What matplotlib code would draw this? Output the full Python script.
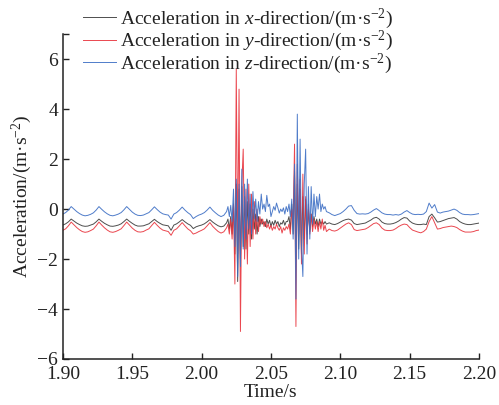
import numpy as np
import matplotlib
matplotlib.use("Agg")
import matplotlib.pyplot as plt

plt.rcParams['font.family'] = ['Liberation Serif', 'DejaVu Serif']
plt.rcParams['mathtext.fontset'] = 'custom'
plt.rcParams['mathtext.rm'] = 'Liberation Serif'
plt.rcParams['mathtext.it'] = 'Liberation Serif:italic'

# sampling grid: 2 ms outside the impacts, 1 ms during them
time_a = np.round(np.arange(1.900, 2.0165, 0.002), 3)
time_b = np.round(np.arange(2.018, 2.0905, 0.001), 3)
time_c = np.round(np.arange(2.092, 2.2005, 0.002), 3)
time = np.concatenate([time_a, time_b, time_c])

acc_z_a = [-0.20, -0.14, -0.04, 0.10, 0.00, -0.10, -0.18, -0.24, -0.27, -0.25,
           -0.21, -0.15, -0.04, 0.10, -0.01, -0.11, -0.19, -0.25, -0.27, -0.24,
           -0.20, -0.14, -0.03, 0.10, -0.01, -0.12, -0.20, -0.25, -0.26, -0.24,
           -0.19, -0.14, -0.03, 0.09, -0.02, -0.12, -0.19, -0.22, -0.24, -0.40,
           -0.20, -0.14, -0.04, 0.08, -0.04, -0.14, -0.22, -0.38, -0.30, -0.24,
           -0.20, -0.14, -0.04, 0.08, -0.05, -0.15, -0.24, -0.30, -0.25]
acc_x_a = [-0.64, -0.59, -0.51, -0.40, -0.48, -0.56, -0.62, -0.67, -0.69, -0.68,
           -0.64, -0.60, -0.51, -0.40, -0.49, -0.57, -0.63, -0.68, -0.69, -0.67,
           -0.64, -0.59, -0.50, -0.40, -0.49, -0.57, -0.64, -0.68, -0.68, -0.67,
           -0.63, -0.59, -0.50, -0.41, -0.50, -0.57, -0.63, -0.65, -0.67, -0.85,
           -0.64, -0.59, -0.51, -0.42, -0.51, -0.59, -0.65, -0.78, -0.71, -0.67,
           -0.64, -0.59, -0.51, -0.42, -0.52, -0.60, -0.67, -0.71, -0.68]
acc_y_a = [-0.85, -0.79, -0.67, -0.52, -0.63, -0.74, -0.83, -0.90, -0.93, -0.91,
           -0.86, -0.80, -0.67, -0.52, -0.64, -0.75, -0.84, -0.91, -0.93, -0.90,
           -0.85, -0.79, -0.66, -0.52, -0.64, -0.76, -0.85, -0.91, -0.92, -0.90,
           -0.84, -0.79, -0.66, -0.53, -0.65, -0.76, -0.84, -0.87, -0.90, -1.05,
           -0.85, -0.79, -0.67, -0.54, -0.67, -0.79, -0.87, -1.00, -0.96, -0.90,
           -0.85, -0.79, -0.67, -0.54, -0.69, -0.80, -0.90, -0.96, -0.91]

acc_z_b = [-0.10, 0.10, -0.30, 0.15, -0.50, 0.80, -1.50, 1.20, -2.70, 1.00,
           -2.30, 1.60, -1.60, 1.00, -1.20, 1.20, -0.80, 0.60, -1.00, 0.70,
           -0.40, 0.40, -0.50, 0.30, -0.20, 0.60, 0.00, 0.20, -0.10, 0.55,
           0.10, 0.20, -0.30, -0.10, 0.10, -0.05, 0.24, 0.05, -0.16, 0.00,
           -0.10, 0.05, -0.20, 0.10, -0.10, 0.20, -0.30, 0.40, -1.20, 1.80,
           -3.60, 3.80, -2.00, 2.80, -1.50, -2.70, 1.00, 2.40, -1.80, 0.90,
           -1.20, 0.90, -0.60, 0.60, -0.30, 0.50, 0.00, 0.60, -0.10, 0.20,
           0.00, 0.10, -0.10]
acc_y_b = [-0.75, -0.60, -1.00, -0.40, -1.20, 0.20, -3.00, 5.60, -1.80, 4.80,
           -4.90, 1.00, 2.40, -2.00, 0.80, -2.20, 1.00, -1.50, 0.60, -1.20,
           0.30, -1.00, 0.00, -0.90, -0.30, -0.60, -0.40, -0.70, -0.50, -0.75,
           -0.60, -0.80, -0.65, -0.85, -0.70, -0.80, -0.60, -0.75, -0.85, -0.70,
           -0.96, -0.75, -0.85, -0.70, -0.80, -0.60, -1.00, 0.00, -0.50, 2.60,
           -4.70, 1.80, -1.00, 1.20, -2.20, 1.40, -1.80, 0.50, -1.40, 0.20,
           -1.00, -0.20, -0.90, -0.40, -0.80, -0.50, -0.90, -0.50, -0.80, -0.40,
           -0.85, -0.65, -0.90]
acc_x_b = [-0.55, -0.40, -0.80, -0.30, -1.00, 0.20, -1.80, 1.00, -2.90, 0.80,
           -2.00, 0.90, -1.50, 0.50, -1.60, 0.30, -1.00, 0.20, -1.20, 0.00,
           -0.80, -0.20, -1.00, -0.30, -0.70, -0.40, -0.60, -0.50, -0.70, -0.40,
           -0.60, -0.45, -0.70, -0.50, -0.65, -0.45, -0.60, -0.50, -0.70, -0.55,
           -0.60, -0.45, -0.65, -0.50, -0.50, -0.30, -0.80, 0.20, -1.00, 1.50,
           -2.00, 1.00, -1.60, 0.80, -1.80, 0.50, -1.20, 0.40, -1.00, 0.00,
           -0.90, -0.20, -0.70, -0.30, -0.60, -0.40, -0.70, -0.40, -0.60, -0.50,
           -0.60, -0.50, -0.60]

acc_z_c = [-0.15, -0.22, -0.26, -0.22, -0.18, -0.10, 0.00, 0.12, 0.14, -0.05,
           -0.18, -0.20, -0.19, -0.20, -0.18, -0.12, -0.04, 0.02, -0.06, -0.15,
           -0.20, -0.22, -0.22, -0.24, -0.22, -0.24, -0.20, -0.12, -0.06, -0.14,
           -0.20, -0.22, -0.21, -0.22, -0.20, -0.10, 0.24, 0.04, 0.18, -0.12,
           -0.16, -0.12, -0.10, -0.08, -0.04, 0.00, -0.05, -0.14, -0.20, -0.22,
           -0.22, -0.23, -0.22, -0.20, -0.18]
acc_x_c = [-0.55, -0.60, -0.62, -0.58, -0.52, -0.46, -0.42, -0.40, -0.44, -0.58,
           -0.62, -0.60, -0.58, -0.56, -0.50, -0.44, -0.36, -0.33, -0.40, -0.52,
           -0.58, -0.60, -0.60, -0.58, -0.54, -0.48, -0.40, -0.34, -0.36, -0.48,
           -0.56, -0.60, -0.62, -0.62, -0.60, -0.62, -0.30, -0.20, -0.35, -0.52,
           -0.50, -0.46, -0.42, -0.38, -0.36, -0.34, -0.40, -0.50, -0.56, -0.60,
           -0.62, -0.62, -0.60, -0.58, -0.56]
acc_y_c = [-0.80, -0.86, -0.88, -0.84, -0.76, -0.68, -0.60, -0.55, -0.62, -0.82,
           -0.86, -0.84, -0.82, -0.80, -0.74, -0.66, -0.58, -0.55, -0.62, -0.76,
           -0.84, -0.86, -0.86, -0.84, -0.78, -0.70, -0.64, -0.60, -0.62, -0.74,
           -0.84, -0.88, -0.92, -0.95, -0.90, -0.80, -0.50, -0.30, -0.55, -0.80,
           -0.78, -0.74, -0.72, -0.70, -0.68, -0.70, -0.74, -0.82, -0.88, -0.92,
           -0.92, -0.92, -0.90, -0.86, -0.84]

acc_x = acc_x_a + acc_x_b + acc_x_c
acc_y = acc_y_a + acc_y_b + acc_y_c
acc_z = acc_z_a + acc_z_b + acc_z_c

labels = ["Acceleration in $x$-direction/(m·s$^{-2}$)",
          "Acceleration in $y$-direction/(m·s$^{-2}$)",
          "Acceleration in $z$-direction/(m·s$^{-2}$)"]
colors = ["#3a3a3a", "#e8333c", "#3c6ec4"]

fig = plt.figure(figsize=(4.99, 4.05), dpi=100)
ax = fig.add_axes([0.126, 0.1136, 0.834, 0.802])

lines = []
for vals, lab, col in zip([acc_x, acc_y, acc_z], labels, colors):
    ln, = ax.plot(time, vals, color=col, lw=0.7, label=lab, alpha=0.9)
    lines.append(ln)

ax.set_xlim(1.90, 2.20)
ax.set_ylim(-6, 7)
ax.set_xticks([1.90, 1.95, 2.00, 2.05, 2.10, 2.15, 2.20])
ax.set_xticklabels(["1.90", "1.95", "2.00", "2.05", "2.10", "2.15", "2.20"])
ax.set_yticks([-6, -4, -2, 0, 2, 4, 6])
ax.set_yticks([7], minor=True)
ax.tick_params(which='both', direction='in', length=4, width=1.0, labelsize=14, colors='#222222')
ax.tick_params(axis='x', pad=5)
for s in ['top', 'right']:
    ax.spines[s].set_visible(False)
for s in ['left', 'bottom']:
    ax.spines[s].set_linewidth(1.1)
    ax.spines[s].set_color('#222222')

ax.set_xlabel("Time/s", fontsize=14, labelpad=1, color='#222222')
ax.set_ylabel("Acceleration/(m·s$^{-2}$)", fontsize=14, labelpad=2, color='#222222')

leg = fig.legend(handles=lines, loc='upper left', bbox_to_anchor=(0.150, 1.003),
                 frameon=False, fontsize=14, handlelength=1.7, handletextpad=0.2,
                 labelspacing=-0.1, borderaxespad=0)
for t in leg.get_texts():
    t.set_color('#222222')

fig.savefig("out.png", dpi=100)
